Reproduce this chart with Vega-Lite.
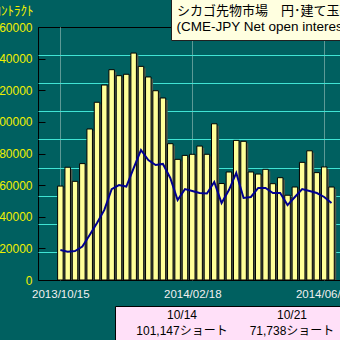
{
  "$schema": "https://vega.github.io/schema/vega-lite/v6.json",
  "width": 302,
  "height": 253,
  "autosize": {"type": "none"},
  "padding": {"left": 38, "top": 27, "right": 0, "bottom": 60},
  "background": "#006060",
  "datasets": {
    "weekly": [
      {"date": "2013-10-15", "contracts": 59400, "net": 19000},
      {"date": "2013-10-22", "contracts": 71300, "net": 17900},
      {"date": "2013-10-29", "contracts": 62400, "net": 18300},
      {"date": "2013-11-05", "contracts": 73600, "net": 21100},
      {"date": "2013-11-12", "contracts": 95500, "net": 28500},
      {"date": "2013-11-19", "contracts": 112400, "net": 36000},
      {"date": "2013-11-26", "contracts": 123300, "net": 44300},
      {"date": "2013-12-03", "contracts": 133000, "net": 57500},
      {"date": "2013-12-10", "contracts": 129200, "net": 60000},
      {"date": "2013-12-17", "contracts": 130100, "net": 59100},
      {"date": "2013-12-24", "contracts": 143500, "net": 70800},
      {"date": "2013-12-31", "contracts": 135100, "net": 82200},
      {"date": "2014-01-07", "contracts": 128400, "net": 75900},
      {"date": "2014-01-14", "contracts": 119700, "net": 72700},
      {"date": "2014-01-21", "contracts": 115100, "net": 73400},
      {"date": "2014-01-28", "contracts": 86200, "net": 64500},
      {"date": "2014-02-04", "contracts": 76300, "net": 50600},
      {"date": "2014-02-11", "contracts": 78800, "net": 57500},
      {"date": "2014-02-18", "contracts": 79500, "net": 56300},
      {"date": "2014-02-25", "contracts": 84700, "net": 55000},
      {"date": "2014-03-04", "contracts": 79500, "net": 54700},
      {"date": "2014-03-11", "contracts": 98800, "net": 62000},
      {"date": "2014-03-18", "contracts": 61000, "net": 48700},
      {"date": "2014-03-25", "contracts": 68300, "net": 56900},
      {"date": "2014-04-01", "contracts": 88300, "net": 67700},
      {"date": "2014-04-08", "contracts": 87700, "net": 51900},
      {"date": "2014-04-15", "contracts": 68300, "net": 52500},
      {"date": "2014-04-22", "contracts": 67000, "net": 58200},
      {"date": "2014-04-29", "contracts": 70000, "net": 58200},
      {"date": "2014-05-06", "contracts": 60900, "net": 55000},
      {"date": "2014-05-13", "contracts": 64700, "net": 55000},
      {"date": "2014-05-20", "contracts": 53600, "net": 47400},
      {"date": "2014-05-27", "contracts": 58800, "net": 52500},
      {"date": "2014-06-03", "contracts": 74400, "net": 57500},
      {"date": "2014-06-10", "contracts": 81700, "net": 56300},
      {"date": "2014-06-17", "contracts": 67900, "net": 55000},
      {"date": "2014-06-24", "contracts": 71500, "net": 52500},
      {"date": "2014-07-01", "contracts": 58800, "net": 48700}
    ],
    "table": [
      {"entry": "10/14|101,147ショート"},
      {"entry": "10/21|71,738ショート"},
      {"entry": "10/28|67,500ショート"}
    ]
  },
  "layer": [
    {
      "data": {"name": "weekly"},
      "mark": {"type": "bar", "width": 5.5, "fill": "#4d5a4d", "xOffset": 2, "yOffset": 2, "clip": true},
      "encoding": {
        "x": {"field": "date", "type": "temporal",
              "scale": {"type": "utc", "domain": [{"year": 2013, "month": 9, "date": 28, "hours": 10, "utc": true}, {"year": 2014, "month": 7, "date": 4, "hours": 8, "utc": true}]}},
        "y": {"field": "contracts", "type": "quantitative", "scale": {"domain": [0, 160000]}, "axis": null}
      }
    },
    {
      "data": {"name": "weekly"},
      "mark": {"type": "bar", "width": 5.5, "fill": "#FFFF99", "stroke": "#000000", "strokeWidth": 1},
      "encoding": {
        "x": {"field": "date", "type": "temporal",
              "axis": {
                "values": [{"year": 2013, "month": 10, "date": 15, "utc": true}, {"year": 2014, "month": 2, "date": 18, "utc": true}, {"year": 2014, "month": 6, "date": 24, "utc": true}],
                "format": "%Y/%m/%d",
                "labelColor": "#F0F0F0", "labelFont": "Liberation Sans", "labelFontSize": 11.5,
                "labelPadding": 8, "ticks": false, "domain": false, "labelFlush": false, "labelOverlap": false,
                "grid": true, "gridColor": "#E8F4E8", "gridDash": [1, 1], "gridOpacity": 0.8,
                "title": null
              }},
        "y": {"field": "contracts", "type": "quantitative", "scale": {"domain": [0, 160000]},
              "axis": {
                "orient": "left",
                "values": [0, 20000, 40000, 60000, 80000, 100000, 120000, 140000, 160000],
                "format": "d",
                "labelColor": "#F0F000", "labelFont": "Liberation Sans", "labelFontSize": 12,
                "tickSize": -7, "tickColor": "#000000", "labelPadding": 13,
                "domain": false, "grid": false,
                "title": "ｺﾝﾄﾗｸﾄ", "titleAngle": 0, "titleAlign": "right", "titleBaseline": "middle",
                "titleX": -5, "titleY": -17, "titleColor": "#F0F000", "titleFont": "Noto Sans CJK JP",
                "titleFontSize": 13, "titleFontWeight": "normal"
              }}
      }
    },
    {
      "data": {"name": "weekly"},
      "mark": {"type": "line", "strokeWidth": 2},
      "encoding": {
        "x": {"field": "date", "type": "temporal"},
        "y": {"field": "net", "type": "quantitative", "scale": {"domain": [0, 160000]},
              "axis": {
                "orient": "right",
                "values": [17777.78, 35555.56, 53333.33, 71111.11, 88888.89, 106666.67, 124444.44, 142222.22],
                "labels": false, "ticks": false, "domain": false,
                "grid": true, "gridColor": "#40E4D4", "gridWidth": 1, "gridOpacity": 1,
                "title": null
              }},
        "color": {
          "datum": "(CME-JPY Net open interest)",
          "scale": {"range": ["#000090"]},
          "legend": {
            "orient": "none", "legendX": 133, "legendY": -28,
            "title": "シカゴ先物市場　円･建て玉残高推移",
            "titleFont": "Noto Sans CJK JP", "titleFontSize": 13, "titleFontWeight": "normal",
            "titleColor": "#000000", "titlePadding": 2, "titleLimit": 400,
            "labelFont": "Liberation Sans", "labelFontSize": 13.5, "labelColor": "#000000",
            "labelOffset": -14, "labelLimit": 400,
            "symbolSize": 0, "symbolOpacity": 0, "symbolStrokeWidth": 0,
            "fillColor": "#FFFFE0", "strokeColor": "#202020", "padding": 6
          }
        }
      }
    },
    {
      "data": {"name": "table"},
      "mark": {"type": "point", "opacity": 0},
      "encoding": {
        "shape": {
          "field": "entry", "type": "nominal",
          "legend": {
            "orient": "none", "legendX": 77, "legendY": 279,
            "title": null, "columns": 3, "direction": "horizontal",
            "labelExpr": "split(datum.label, '|')",
            "labelAlign": "center",
            "labelFont": "Liberation Sans, Noto Sans CJK JP", "labelFontSize": 12, "labelColor": "#000000",
            "labelOffset": 52, "labelLimit": 200,
            "symbolSize": 0, "symbolOpacity": 0, "symbolStrokeWidth": 0,
            "fillColor": "#FFE0F8", "strokeColor": "#000000", "padding": 3, "columnPadding": -36
          }
        }
      }
    }
  ],
  "resolve": {
    "scale": {"y": "independent", "color": "independent", "shape": "independent"},
    "axis": {"y": "independent"}
  },
  "config": {
    "view": {"fill": "#80C098", "stroke": "#000000", "strokeWidth": 1},
    "style": {"guide-label": {"lineHeight": 16}}
  }
}
